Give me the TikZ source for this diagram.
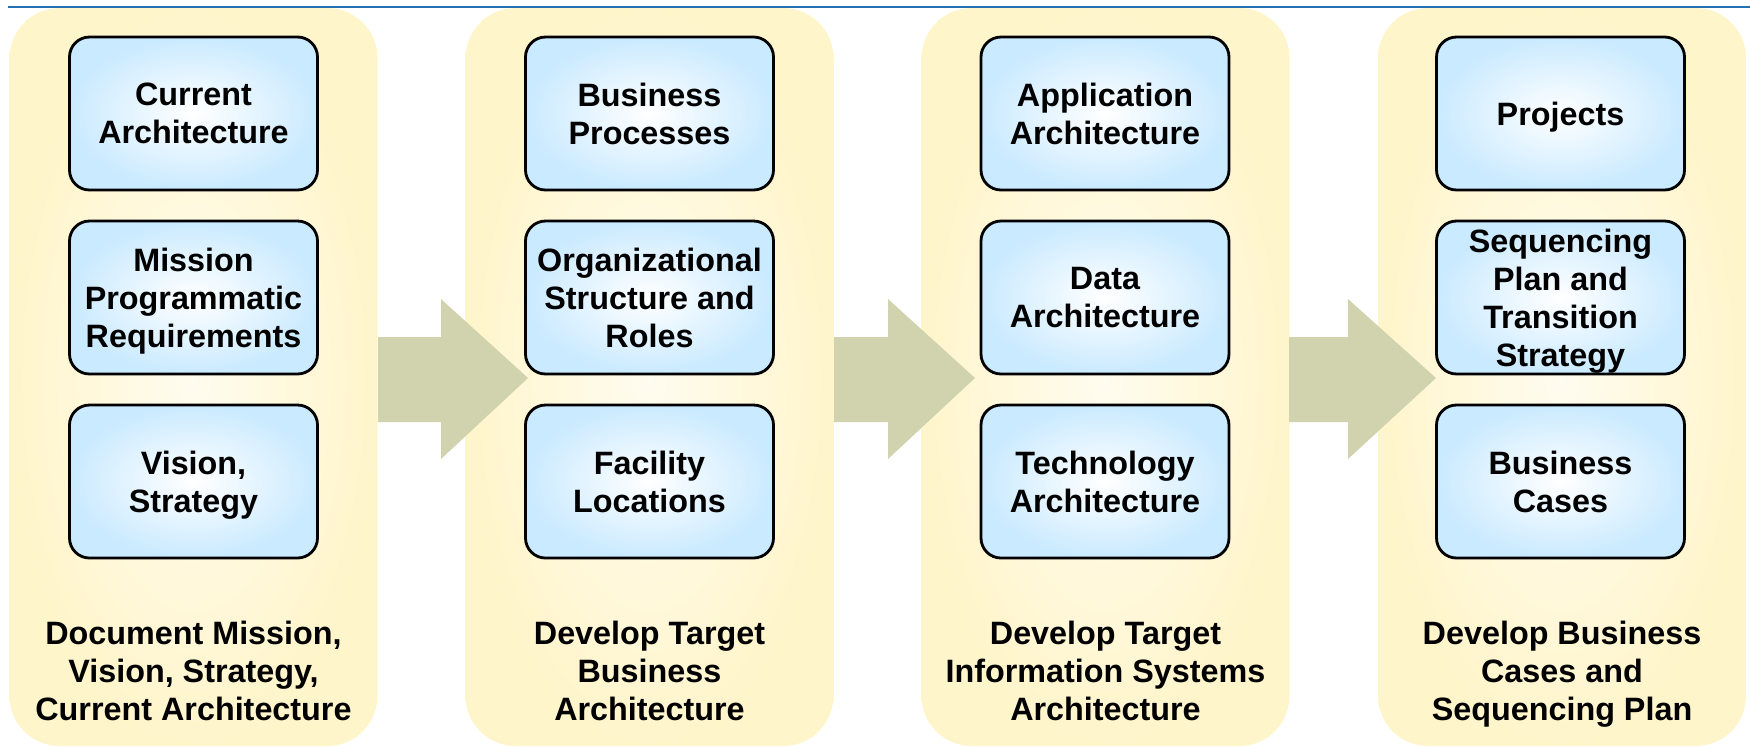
\documentclass[tikz,border=0pt]{standalone}
\usepackage{fontspec}
\setmainfont{Liberation Sans}
\usepackage{tikz}

\definecolor{stagefill}{HTML}{FFF5CB}
\definecolor{stagecore}{HTML}{FFFCF0}
\definecolor{taskfill}{HTML}{CAEAFF}
\definecolor{flowfill}{HTML}{D1D3AE}
\definecolor{rulecol}{HTML}{2272B4}

\begin{document}
\begin{tikzpicture}[x=0.1mm,y=-0.1mm,
	stage/.style={rounded corners=5mm, outer color=stagefill, inner color=stagecore,
		minimum width=36.8mm, minimum height=73.8mm, inner sep=0pt},
	task/.style={draw, line width=.8pt, rounded corners=2mm, outer color=taskfill, inner color=white,
		minimum width=24.8mm, minimum height=15.3mm, inner sep=0pt, align=center,
		text depth=-1.2pt,
		font=\bfseries\fontsize{9.2}{10.8}\selectfont},
	caption/.style={align=center, inner sep=0pt, text depth=0pt,
		font=\bfseries\fontsize{9.2}{10.8}\selectfont},
	flow/.style={fill=flowfill}]

	\useasboundingbox (0,0) rectangle (1750,746);

	\draw[rulecol, line width=.45pt] (8,7) -- (1750,7);

	% the four stages
	\node[stage] (s1) at (193.5,377) {};
	\node[stage] (s2) at (649.5,377) {};
	\node[stage] (s3) at (1105.5,377) {};
	\node[stage] (s4) at (1562,377) {};

	% arrows between stages
	\fill[flow] (378,337) -- (441,337) -- (441,299) -- (528,378) -- (441,459) -- (441,422) -- (378,422) -- cycle;
	\fill[flow] (834,337) -- (888,337) -- (888,299) -- (975,378) -- (888,459) -- (888,422) -- (834,422) -- cycle;
	\fill[flow] (1289,337) -- (1348,337) -- (1348,299) -- (1436,378) -- (1348,459) -- (1348,422) -- (1289,422) -- cycle;

	\node[task] (cur) at (193.5,113.5) {Current\\Architecture};
	\node[task] (mis) at (193.5,297.5) {Mission\\Programmatic\\Requirements};
	\node[task] (vis) at (193.5,481.5) {Vision,\\Strategy};

	\node[task] (bus) at (649.5,113.5) {Business\\Processes};
	\node[task] (org) at (649.5,297.5) {Organizational\\Structure and\\Roles};
	\node[task] (fac) at (649.5,481.5) {Facility\\Locations};

	\node[task] (app) at (1105,113.5) {Application\\Architecture};
	\node[task] (dat) at (1105,297.5) {Data\\Architecture};
	\node[task] (tec) at (1105,481.5) {Technology\\Architecture};

	\node[task] (pro) at (1560.5,113.5) {Projects};
	\node[task] (seq) at (1560.5,297.5) {Sequencing\\Plan and\\Transition\\Strategy};
	\node[task] (cas) at (1560.5,481.5) {Business\\Cases};

	\node[caption] (c1) at (193.5,671) {Document Mission,\\Vision, Strategy,\\Current Architecture};
	\node[caption] (c2) at (649.5,671) {Develop Target\\Business\\Architecture};
	\node[caption] (c3) at (1105.5,671) {Develop Target\\Information Systems\\Architecture};
	\node[caption] (c4) at (1562,671) {Develop Business\\Cases and\\Sequencing Plan};

\end{tikzpicture}
\end{document}
